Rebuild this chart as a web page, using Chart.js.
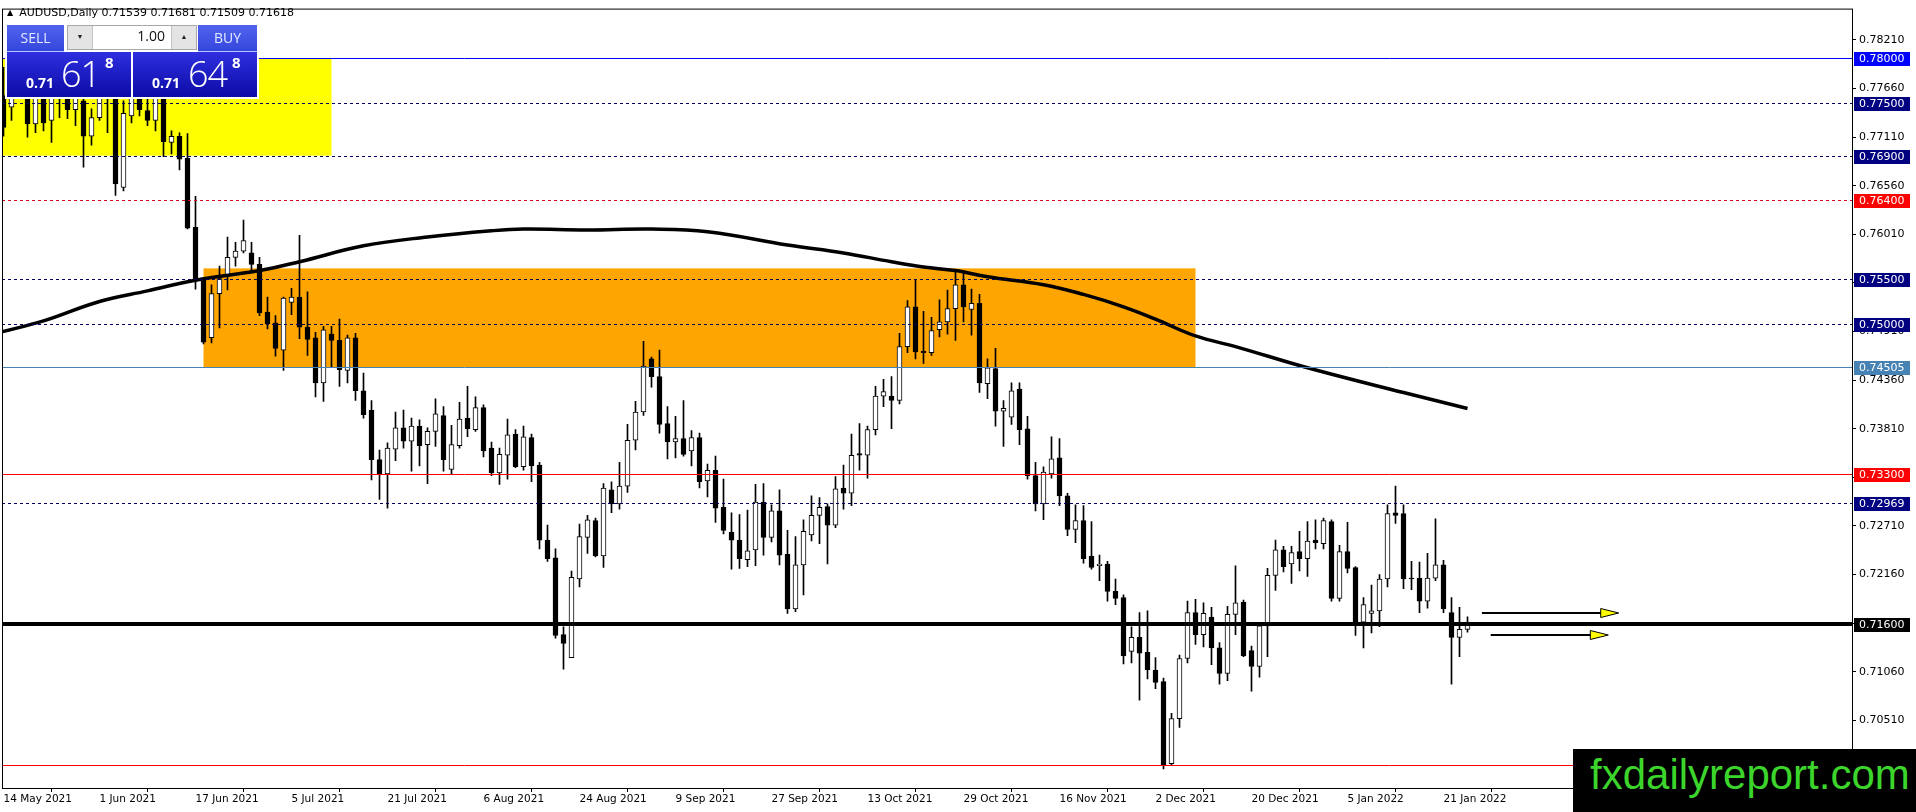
<!DOCTYPE html>
<html><head><meta charset="utf-8">
<script src="https://cdn.jsdelivr.net/npm/chart.js@4.4.1/dist/chart.umd.min.js"></script>
<style>
html,body{margin:0;padding:0;background:#fff;overflow:hidden;width:1916px;height:812px}
#wrap{position:absolute;left:0;top:0;width:1916px;height:812px}
.abs{position:absolute;white-space:nowrap}
#hdr{left:7px;top:6px;font:11px "DejaVu Sans",sans-serif;color:#000;line-height:14px}
#hdr .tri{font-size:8px;margin-right:6px;position:relative;top:-1px}
#back{left:5px;top:23px;width:254px;height:76px;background:#fff}
.btn{height:26px;background:linear-gradient(#5163ee,#3447dc);border-bottom:1px solid #b8c2ff;color:#e4eaff;font:14px "Open Sans",sans-serif;line-height:26px;text-align:center}
#sell{left:7px;top:25px;width:57px}
#buy{left:198px;top:25px;width:59px}
#spin{left:67px;top:25px;width:128px;height:23px;border:1px solid #a8a8a8;background:#fff}
.sb{position:absolute;top:0;height:23px;width:24px;background:#e4e4e4;font-size:7px;line-height:23px;text-align:center;color:#222}
#sd{left:0;border-right:1px solid #c4c4c4}
#su{right:0;border-left:1px solid #c4c4c4}
#lot{position:absolute;right:31px;top:3px;font:14px "Open Sans",sans-serif;color:#111;line-height:14px}
.price{top:52px;width:124px;height:45px;background:linear-gradient(#2f2fe0,#0b0ba6);color:#fff;font-family:"Open Sans",sans-serif;overflow:hidden}
#psell{left:7px}
#pbuy{left:133px}
.p1{position:absolute;font-weight:700;font-size:14px;line-height:14px;top:23.6px}
.p2{position:absolute;font-weight:300;font-size:36px;line-height:36px;top:4px;letter-spacing:-1px}
.p3{position:absolute;font-weight:700;font-size:15px;line-height:15px;top:3.4px}
#wm{left:1573px;top:749px;width:343px;height:63px;background:#000;color:#3cd52b;font:42px "Liberation Sans",Arial,sans-serif;line-height:42px;padding-left:17px;box-sizing:border-box;padding-top:5px}
</style></head><body>
<div id="wrap"><canvas id="c"></canvas></div>
<div id="hdr" class="abs"><span class="tri">▲</span>AUDUSD,Daily 0.71539 0.71681 0.71509 0.71618</div>
<div id="back" class="abs"></div>
<div id="sell" class="abs btn">SELL</div>
<div id="spin" class="abs"><div id="sd" class="sb">▼</div><div id="lot">1.00</div><div id="su" class="sb">▲</div></div>
<div id="buy" class="abs btn">BUY</div>
<div id="psell" class="abs price"><span class="p1" style="left:19px">0.71</span><span class="p2" style="left:54px">61</span><span class="p3" style="left:98px">8</span></div>
<div id="pbuy" class="abs price"><span class="p1" style="left:19px">0.71</span><span class="p2" style="left:55px">64</span><span class="p3" style="left:99px">8</span></div>
<div id="wm" class="abs">fxdailyreport.com</div>
<script>
// ---- data (AUDUSD daily, bar 0 = 14 May 2021) ----
const open = [0.7758,0.7745,0.7770,0.7785,0.7726,0.7770,0.7730,0.7765,0.7760,0.7742,0.7752,0.7712,0.7733,0.7765,0.7760,0.7654,0.7735,0.7770,0.7741,0.7730,
0.7765,0.7705,0.7712,0.7687,0.7609,0.7550,0.7484,0.7534,0.7555,0.7575,0.7582,0.7580,0.7567,0.7513,0.7501,0.7470,0.7524,0.7530,0.7496,0.7484,
0.7433,0.7488,0.7481,0.7447,0.7484,0.7424,0.7402,0.7346,0.7330,0.7358,0.7382,0.7367,0.7384,0.7363,0.7378,0.7396,0.7335,0.7362,0.7393,0.7380,
0.7405,0.7359,0.7331,0.7351,0.7375,0.7338,0.7371,0.7340,0.7255,0.7235,0.7148,0.7122,0.7211,0.7258,0.7277,0.7237,0.7312,0.7296,0.7316,0.7368,
0.7400,0.7460,0.7440,0.7387,0.7366,0.7370,0.7356,0.7371,0.7322,0.7334,0.7292,0.7264,0.7255,0.7233,0.7244,0.7298,0.7258,0.7288,0.7239,0.7177,
0.7227,0.7261,0.7283,0.7293,0.7272,0.7314,0.7308,0.7353,0.7351,0.7380,0.7418,0.7418,0.7413,0.7474,0.7519,0.7469,0.7467,0.7493,0.7502,0.7517,
0.7544,0.7516,0.7523,0.7432,0.7449,0.7401,0.7394,0.7426,0.7381,0.7328,0.7296,0.7330,0.7348,0.7305,0.7267,0.7277,0.7237,0.7226,0.7228,0.7197,
0.7190,0.7129,0.7145,0.7128,0.7108,0.7095,0.7002,0.7053,0.7121,0.7173,0.7148,0.7168,0.7133,0.7104,0.7171,0.7185,0.7130,0.7112,0.7158,0.7215,
0.7244,0.7228,0.7242,0.7234,0.7255,0.7251,0.7276,0.7189,0.7242,0.7224,0.7162,0.7172,0.7175,0.7211,0.7286,0.7285,0.7212,0.7212,0.7186,0.7212,
0.7227,0.7173,0.7145,0.71539];
const high = [0.7790,0.7785,0.7810,0.7800,0.7790,0.7785,0.7795,0.7800,0.7780,0.7775,0.7765,0.7743,0.7775,0.7790,0.7775,0.7752,0.7785,0.7790,0.7755,0.7780,
0.7780,0.7718,0.7716,0.7715,0.7644,0.7552,0.7544,0.7565,0.7598,0.7592,0.7617,0.7592,0.7575,0.7530,0.7509,0.7530,0.7540,0.7600,0.7536,0.7490,
0.7497,0.7497,0.7505,0.7487,0.7489,0.7444,0.7413,0.7357,0.7365,0.7400,0.7402,0.7393,0.7391,0.7382,0.7415,0.7406,0.7385,0.7411,0.7429,0.7417,
0.7408,0.7366,0.7359,0.7392,0.7380,0.7384,0.7375,0.7343,0.7272,0.7245,0.7157,0.7220,0.7273,0.7283,0.7280,0.7319,0.7321,0.7343,0.7386,0.7412,
0.7480,0.7462,0.7470,0.7406,0.7395,0.7413,0.7379,0.7376,0.7341,0.7350,0.7324,0.7286,0.7284,0.7289,0.7318,0.7319,0.7295,0.7312,0.7266,0.7259,
0.7278,0.7305,0.7303,0.7296,0.7327,0.7340,0.7375,0.7387,0.7384,0.7429,0.7437,0.7440,0.7489,0.7526,0.7550,0.7514,0.7507,0.7527,0.7538,0.7558,
0.7557,0.7539,0.7533,0.7460,0.7472,0.7413,0.7433,0.7433,0.7395,0.7343,0.7338,0.7372,0.7370,0.7308,0.7295,0.7294,0.7276,0.7238,0.7231,0.7211,
0.7193,0.7157,0.7173,0.7175,0.7122,0.7099,0.7059,0.7125,0.7186,0.7188,0.7184,0.7179,0.7139,0.7180,0.7226,0.7187,0.7135,0.7158,0.7223,0.7255,
0.7248,0.7248,0.7265,0.7276,0.7278,0.7280,0.7278,0.7249,0.7275,0.7225,0.7190,0.7204,0.7216,0.7295,0.7316,0.7295,0.7231,0.7230,0.7240,0.7279,
0.7232,0.7190,0.7179,0.71681];
const low = [0.7712,0.7730,0.7755,0.7711,0.7716,0.7718,0.7705,0.7733,0.7732,0.7724,0.7677,0.7702,0.7730,0.7716,0.7645,0.7650,0.7727,0.7735,0.7724,0.7718,
0.7689,0.7692,0.7674,0.7607,0.7539,0.7477,0.7478,0.7495,0.7538,0.7565,0.7580,0.7560,0.7509,0.7494,0.7463,0.7447,0.7510,0.7483,0.7464,0.7417,
0.7412,0.7451,0.7429,0.7433,0.7413,0.7393,0.7323,0.7301,0.7291,0.7345,0.7359,0.7333,0.7339,0.7319,0.7361,0.7333,0.7330,0.7359,0.7372,0.7378,
0.7349,0.7328,0.7318,0.7324,0.7337,0.7334,0.7321,0.7245,0.7231,0.7144,0.7109,0.7122,0.7202,0.7240,0.7236,0.7224,0.7286,0.7290,0.7309,0.7357,
0.7396,0.7428,0.7376,0.7347,0.7348,0.7350,0.7339,0.7314,0.7304,0.7275,0.7262,0.7222,0.7223,0.7225,0.7226,0.7238,0.7253,0.7227,0.7172,0.7174,
0.7193,0.7254,0.7251,0.7228,0.7269,0.7290,0.7294,0.7334,0.7325,0.7374,0.7406,0.7381,0.7409,0.7467,0.7460,0.7455,0.7464,0.7485,0.7488,0.7481,
0.7502,0.7487,0.7422,0.7415,0.7384,0.7361,0.7386,0.7363,0.7324,0.7288,0.7278,0.7325,0.7294,0.7260,0.7252,0.7229,0.7222,0.7209,0.7186,0.7182,
0.7115,0.7116,0.7074,0.7098,0.7087,0.6996,0.7000,0.7043,0.7116,0.7137,0.7134,0.7114,0.7092,0.7096,0.7148,0.7123,0.7084,0.7100,0.7123,0.7198,
0.7219,0.7206,0.7220,0.7214,0.7245,0.7245,0.7186,0.7186,0.7218,0.7147,0.7133,0.7150,0.7157,0.7202,0.7274,0.7200,0.7199,0.7173,0.7178,0.7209,
0.7173,0.7092,0.7123,0.71509];
const close = [0.7722,0.7770,0.7790,0.7726,0.7770,0.7727,0.7765,0.7775,0.7742,0.7760,0.7712,0.7733,0.7760,0.7755,0.7658,0.7738,0.7765,0.7742,0.7730,0.7760,
0.7706,0.7712,0.7686,0.7608,0.7550,0.7479,0.7534,0.7551,0.7575,0.7582,0.7594,0.7567,0.7512,0.7500,0.7472,0.7529,0.7530,0.7496,0.7482,0.7433,
0.7493,0.7481,0.7448,0.7484,0.7424,0.7397,0.7346,0.7330,0.7359,0.7382,0.7367,0.7384,0.7362,0.7378,0.7398,0.7346,0.7363,0.7392,0.7381,0.7405,
0.7356,0.7331,0.7352,0.7374,0.7338,0.7372,0.7339,0.7255,0.7234,0.7147,0.7138,0.7213,0.7259,0.7278,0.7237,0.7314,0.7296,0.7316,0.7368,0.7400,
0.7452,0.7440,0.7386,0.7366,0.7370,0.7352,0.7371,0.7321,0.7334,0.7291,0.7266,0.7255,0.7234,0.7243,0.7298,0.7258,0.7288,0.7238,0.7177,0.7227,
0.7265,0.7283,0.7292,0.7272,0.7313,0.7308,0.7351,0.7351,0.7380,0.7418,0.7423,0.7413,0.7474,0.7519,0.7468,0.7467,0.7492,0.7502,0.7517,0.7544,
0.7519,0.7523,0.7433,0.7450,0.7401,0.7404,0.7424,0.7380,0.7328,0.7296,0.7332,0.7347,0.7305,0.7267,0.7277,0.7234,0.7224,0.7228,0.7197,0.7189,
0.7124,0.7145,0.7127,0.7108,0.7094,0.7000,0.7053,0.7121,0.7173,0.7148,0.7172,0.7133,0.7104,0.7171,0.7184,0.7124,0.7112,0.7158,0.7215,0.7244,
0.7225,0.7241,0.7234,0.7254,0.7252,0.7277,0.7189,0.7242,0.7223,0.7160,0.7182,0.7175,0.7211,0.7285,0.7283,0.7211,0.7211,0.7186,0.7212,0.7227,
0.7177,0.7145,0.7154,0.71618];

// moving average read at sample bars
const maBars   = [-0.5,5,12,18,24,32,37,45,53,61,65,73,81,88,98,105,111,115,119,123,130,135,140,144,149,154,163,175,183];
const maValues = [0.7490,0.7503,0.7525,0.7537,0.7549,0.7560,0.7570,0.7588,0.7598,0.7605,0.7607,0.7606,0.7607,0.7604,0.7589,0.7580,0.7570,0.7564,0.7560,0.7553,0.7544,0.7533,0.7519,0.7505,0.7486,0.7474,0.7450,0.7422,0.7404];

// axis tick labels
const xTickBars = [0,12,24,36,48,60,72,84,96,108,120,132,144,156,168,180];
const xTickLabels = ['14 May 2021','1 Jun 2021','17 Jun 2021','5 Jul 2021','21 Jul 2021','6 Aug 2021','24 Aug 2021','9 Sep 2021','27 Sep 2021','13 Oct 2021','29 Oct 2021','16 Nov 2021','2 Dec 2021','20 Dec 2021','5 Jan 2022','21 Jan 2022'];
const yTickValues = [0.7821,0.7766,0.7711,0.7656,0.7601,0.7546,0.7491,0.7436,0.7381,0.7326,0.7271,0.7216,0.7161,0.7106,0.7051];

// horizontal levels
const levelPrices = [0.78000,0.77500,0.76900,0.76400,0.75500,0.75000,0.74505,0.73300,0.72969,0.71600,0.70000];
const levelColors = ['#0000ff','#00005c','#00005c','#e00020','#00005c','#00005c','#4682b4','#ff0000','#00005c','#000000','#ff0000'];
const levelDashed = [false,true,true,true,true,true,false,false,true,false,false];
const levelWidths = [1,1,1,1,1,1,1,1,1,4,1];
const levelBoxColors = ['#0000ff','#000080','#000080','#ff0000','#000080','#000080','#4682b4','#ff0000','#000080','#000000','#ff0000'];

// zones (bar range, price range)
const zoneFromBar = [-5,25];
const zoneToBar = [41,149];
const zoneTop = [0.78000,0.75625];
const zoneBottom = [0.76900,0.74505];
const zoneColors = ['#ffff00','#ffa500'];

// arrows
const arrowFromBar = [184.8,185.9];
const arrowToBar = [201.9,200.6];
const arrowPrice = [0.71720,0.71473];

const bodies = open.map((o,i)=>({x:i,y:[o,close[i]]}));
const wicks = low.map((l,i)=>({x:i,y:[l,high[i]]}));
const ma = maBars.map((b,i)=>({x:b,y:maValues[i]}));

const FONT = '"DejaVu Sans", sans-serif';

const overlay = {
  id:'overlay',
  beforeDatasetsDraw(chart){
    const {ctx, chartArea:a, scales:{x,y}} = chart;
    ctx.save();
    ctx.beginPath(); ctx.rect(a.left,a.top,a.right-a.left,a.bottom-a.top); ctx.clip();
    zoneFromBar.forEach((f,i)=>{
      const x1 = x.getPixelForValue(f), x2 = x.getPixelForValue(zoneToBar[i]);
      const y1 = y.getPixelForValue(zoneTop[i]), y2 = y.getPixelForValue(zoneBottom[i]);
      ctx.fillStyle = zoneColors[i];
      ctx.fillRect(x1,y1,x2-x1,y2-y1);
    });
    ctx.restore();
  },
  afterDatasetsDraw(chart){
    const {ctx, chartArea:a, scales:{x,y}} = chart;
    ctx.save();
    ctx.beginPath(); ctx.rect(a.left,a.top,a.right-a.left,a.bottom-a.top); ctx.clip();
    levelPrices.forEach((p,i)=>{
      const w = levelWidths[i];
      let yy = y.getPixelForValue(p);
      yy = w % 2 ? Math.round(yy)+0.5 : Math.round(yy);
      ctx.strokeStyle = levelColors[i];
      ctx.lineWidth = w;
      ctx.setLineDash(levelDashed[i] ? [3,3] : []);
      ctx.beginPath(); ctx.moveTo(a.left,yy); ctx.lineTo(a.right,yy); ctx.stroke();
    });
    ctx.setLineDash([]);
    arrowFromBar.forEach((f,i)=>{
      const x1 = x.getPixelForValue(f), x2 = x.getPixelForValue(arrowToBar[i]);
      const yy = Math.round(y.getPixelForValue(arrowPrice[i]));
      ctx.strokeStyle='#000'; ctx.lineWidth=2;
      ctx.beginPath(); ctx.moveTo(x1,yy); ctx.lineTo(x2-16,yy); ctx.stroke();
      ctx.beginPath(); ctx.moveTo(x2,yy); ctx.lineTo(x2-18,yy-4.5); ctx.lineTo(x2-18,yy+4.5); ctx.closePath();
      ctx.fillStyle='#ffff00'; ctx.fill(); ctx.lineWidth=1; ctx.stroke();
    });
    ctx.restore();
  },
  afterDraw(chart){
    const {ctx, chartArea:a, scales:{y}} = chart;
    ctx.save();
    ctx.strokeStyle='#000'; ctx.lineWidth=1;
    ctx.strokeRect(a.left+0.5, a.top-0.5, a.right-a.left, a.bottom-a.top+1);
    ctx.font = '11px ' + FONT;
    ctx.textBaseline='middle'; ctx.textAlign='left';
    levelPrices.forEach((p,i)=>{
      const yy = Math.round(y.getPixelForValue(p));
      ctx.fillStyle = levelBoxColors[i];
      ctx.fillRect(a.right+2, yy-6, 56, 14);
      ctx.fillStyle = '#fff';
      ctx.fillText(p.toFixed(5), a.right+7, yy+1.5);
    });
    ctx.restore();
  }
};

Chart.defaults.font.family = FONT;
new Chart(document.getElementById('c'), {
  data:{
    datasets:[
      {type:'line', data:ma, borderColor:'#000', borderWidth:3.5, pointRadius:0, tension:0.4, order:0, fill:false},
      {type:'bar', data:bodies, grouped:false, barThickness:5, borderWidth:1, borderColor:'#000', borderSkipped:false, minBarLength:1,
        backgroundColor:open.map((o,i)=> close[i]>=o ? '#ffffff' : '#000000'), order:1},
      {type:'bar', data:wicks, grouped:false, barThickness:1, borderWidth:0, backgroundColor:'#000', order:2}
    ]
  },
  options:{
    responsive:true, maintainAspectRatio:false, animation:false,
    layout:{padding:{left:2,top:3,right:0,bottom:0}},
    plugins:{legend:{display:false}, tooltip:{enabled:false}},
    scales:{
      x:{type:'linear', min:-0.1875, max:231.0625, offset:false,
        afterBuildTicks:s=>{ s.ticks = xTickBars.map(v=>({value:v})); },
        afterFit:s=>{ s.height = 24; },
        grid:{drawOnChartArea:false, drawTicks:true, tickLength:4, color:'#000'},
        border:{display:false},
        ticks:{autoSkip:false, maxRotation:0, align:'start', padding:1, color:'#000', font:{size:10.5},
          callback:v=>{ const i = xTickBars.indexOf(v); return i>=0 ? xTickLabels[i] : ''; }}
      },
      y:{type:'linear', position:'right', min:0.697448, max:0.785532,
        afterBuildTicks:s=>{ s.ticks = yTickValues.map(v=>({value:v})); },
        afterFit:s=>{ s.width = 64; },
        grid:{drawOnChartArea:false, drawTicks:true, tickLength:4, color:'#000'},
        border:{display:false},
        ticks:{autoSkip:false, padding:3, color:'#000', font:{size:11},
          callback:v=>Number(v).toFixed(5)}
      }
    }
  },
  plugins:[overlay]
});
</script>
</body></html>
